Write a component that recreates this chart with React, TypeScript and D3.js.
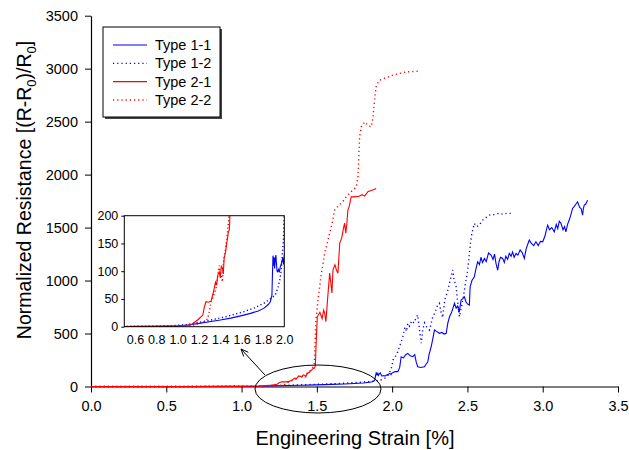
import React, { useEffect, useRef } from "react";
import * as d3 from "d3";

// [strain %, normalized resistance]
const type11 = [
  [0, 0], [0.2, 0], [0.4, 0.3], [0.6, 0.5], [0.8, 0.8], [1.0, 1.5], [1.1, 3], [1.2, 6], [1.313, 9.5],
  [1.4, 12], [1.498, 15.5], [1.6, 20], [1.683, 24], [1.75, 28], [1.807, 33], [1.85, 40], [1.869, 45],
  [1.878, 52], [1.884, 57], [1.889, 95], [1.894, 128], [1.9, 110], [1.905, 125], [1.909, 105],
  [1.915, 120], [1.921, 129], [1.927, 112], [1.932, 100], [1.937, 99], [1.945, 103], [1.953, 98],
  [1.961, 107], [1.97, 112], [1.977, 117], [1.985, 124], [1.993, 112], [2.0, 129], [2.02, 140],
  [2.038, 140], [2.05, 180], [2.06, 281], [2.075, 270], [2.09, 300], [2.104, 313], [2.12, 290],
  [2.137, 281], [2.15, 300], [2.16, 230], [2.17, 187], [2.19, 180], [2.215, 187], [2.225, 210],
  [2.237, 234], [2.245, 300], [2.259, 375], [2.27, 450], [2.281, 533], [2.295, 520], [2.314, 502],
  [2.33, 510], [2.345, 495], [2.359, 502], [2.37, 600], [2.381, 658], [2.395, 700], [2.414, 785],
  [2.425, 740], [2.435, 760], [2.445, 700], [2.458, 816], [2.47, 830], [2.48, 847], [2.49, 800],
  [2.5, 780], [2.513, 769], [2.518, 941], [2.53, 1000], [2.546, 1036], [2.555, 1100], [2.568, 1177],
  [2.58, 1150], [2.59, 1220], [2.6, 1170], [2.613, 1209], [2.625, 1180], [2.64, 1260], [2.657, 1240],
  [2.67, 1200], [2.68, 1250], [2.69, 1160], [2.701, 1099], [2.71, 1180], [2.72, 1220], [2.734, 1209],
  [2.745, 1170], [2.755, 1230], [2.767, 1200], [2.778, 1256], [2.79, 1230], [2.8, 1270], [2.81, 1220],
  [2.823, 1256], [2.835, 1240], [2.85, 1290], [2.865, 1260], [2.878, 1209], [2.89, 1300], [2.9, 1340],
  [2.911, 1382], [2.925, 1350], [2.94, 1330], [2.955, 1366], [2.97, 1330], [2.985, 1370], [3.0, 1366],
  [3.015, 1420], [3.025, 1480], [3.033, 1523], [3.045, 1480], [3.06, 1500], [3.077, 1460],
  [3.09, 1530], [3.1, 1490], [3.11, 1560], [3.121, 1540], [3.135, 1480], [3.145, 1510], [3.154, 1460],
  [3.165, 1530], [3.176, 1571], [3.187, 1620], [3.198, 1681], [3.21, 1700], [3.22, 1720],
  [3.232, 1743], [3.245, 1690], [3.255, 1680], [3.265, 1618], [3.27, 1680], [3.276, 1712],
  [3.285, 1720], [3.298, 1759],
];

const type12 = [
  [0, 0], [0.3, 0], [0.6, 0.5], [0.9, 1], [1.1, 4], [1.2, 8], [1.313, 12], [1.45, 18], [1.62, 27],
  [1.72, 34], [1.807, 42], [1.86, 49], [1.915, 57], [1.94, 70], [1.961, 87], [1.975, 110],
  [1.985, 140], [1.992, 158], [2.0, 200], [2.005, 250], [2.03, 300], [2.05, 380], [2.071, 470],
  [2.085, 560], [2.095, 520], [2.104, 596], [2.115, 570], [2.13, 620], [2.145, 600], [2.16, 650],
  [2.17, 675], [2.18, 550], [2.193, 408], [2.204, 540], [2.215, 600], [2.23, 560], [2.248, 533],
  [2.26, 600], [2.27, 658], [2.285, 700], [2.3, 760], [2.314, 785], [2.325, 700], [2.335, 650],
  [2.35, 820], [2.37, 910], [2.385, 1000], [2.395, 1060], [2.403, 1099], [2.41, 1020], [2.425, 941],
  [2.435, 800], [2.447, 658], [2.46, 750], [2.47, 820], [2.48, 910], [2.49, 1000], [2.502, 1099],
  [2.513, 1256], [2.52, 1350], [2.53, 1450], [2.546, 1540], [2.56, 1510], [2.58, 1523], [2.595, 1560],
  [2.613, 1587], [2.63, 1600], [2.646, 1618], [2.67, 1620], [2.69, 1630], [2.712, 1634], [2.74, 1625],
  [2.76, 1635], [2.79, 1634],
];

const type21 = [
  [0, 0], [0.2, 0], [0.4, 0.4], [0.6, 0.3], [0.8, 0.6], [0.9, 0.8], [1.0, 1.2], [1.035, 2],
  [1.08, 2.5], [1.127, 3.6], [1.16, 8], [1.19, 12.5], [1.215, 17], [1.236, 21], [1.25, 35],
  [1.266, 45], [1.29, 44], [1.313, 46], [1.33, 58], [1.343, 69], [1.355, 80], [1.365, 75],
  [1.375, 92], [1.39, 99], [1.4, 88], [1.41, 110], [1.42, 105], [1.428, 95], [1.436, 123],
  [1.45, 135], [1.46, 150], [1.467, 158], [1.475, 170], [1.485, 175], [1.49, 200], [1.495, 400],
  [1.503, 658], [1.52, 700], [1.535, 640], [1.545, 720], [1.552, 693], [1.56, 611], [1.57, 800],
  [1.585, 1070], [1.595, 950], [1.6, 882], [1.607, 1099], [1.62, 1150], [1.63, 1100], [1.64, 1070],
  [1.652, 1354], [1.665, 1400], [1.675, 1480], [1.684, 1542], [1.692, 1448], [1.7, 1550],
  [1.706, 1665], [1.715, 1700], [1.728, 1791], [1.75, 1790], [1.78, 1795], [1.8, 1810],
  [1.817, 1797], [1.83, 1820], [1.839, 1838], [1.86, 1850], [1.88, 1860], [1.894, 1870],
];

const type22 = [
  [0, 0], [0.3, 0], [0.6, 0.5], [0.9, 0.8], [1.1, 2], [1.15, 3], [1.22, 6.5], [1.26, 10],
  [1.282, 15], [1.3, 30], [1.313, 45], [1.335, 55], [1.36, 69], [1.375, 90], [1.39, 110],
  [1.405, 95], [1.42, 81], [1.428, 110], [1.436, 128], [1.45, 140], [1.467, 170], [1.482, 200],
  [1.487, 350], [1.492, 599], [1.5, 700], [1.507, 816], [1.515, 900], [1.53, 1070], [1.54, 1150],
  [1.552, 1259], [1.565, 1330], [1.585, 1448], [1.6, 1530], [1.618, 1665], [1.64, 1700],
  [1.662, 1731], [1.68, 1760], [1.695, 1791], [1.72, 1830], [1.745, 1860], [1.762, 1885],
  [1.773, 1979], [1.778, 2150], [1.784, 2357], [1.795, 2451], [1.805, 2470], [1.817, 2498],
  [1.83, 2480], [1.845, 2460], [1.861, 2451], [1.873, 2545], [1.883, 2700], [1.895, 2844],
  [1.917, 2892], [1.95, 2910], [1.98, 2925], [2.005, 2939], [2.05, 2955], [2.094, 2970],
  [2.13, 2972], [2.18, 2976],
];

const seriesNames = ["Type 1-1", "Type 1-2", "Type 2-1", "Type 2-2"];
const seriesData = [type11, type12, type21, type22];
const seriesColors = ["#0000ff", "#0000ff", "#ff0000", "#ff0000"];
const seriesDotted = [false, true, false, true];

const xTicks = [0, 0.5, 1.0, 1.5, 2.0, 2.5, 3.0, 3.5];
const yTicks = [0, 500, 1000, 1500, 2000, 2500, 3000, 3500];
const insetXTicks = [0.6, 0.8, 1.0, 1.2, 1.4, 1.6, 1.8, 2.0];
const insetYTicks = [0, 50, 100, 150, 200];

const FONT = "'Liberation Sans', Arial, sans-serif";
const DOTS = "1.2,3";

const App = () => {
  const ref = useRef(null);

  useEffect(() => {
    const svg = d3.select(ref.current);
    svg.selectAll("*").remove();

    const x = d3.scaleLinear().domain([0, 3.5]).range([91, 618]);
    const y = d3.scaleLinear().domain([0, 3500]).range([386.5, 15.7]);

    const root = svg.append("g").style("font-family", FONT);

    // main axes
    const xAxis = root
      .append("g")
      .attr("transform", `translate(0,${y(0)})`)
      .call(d3.axisBottom(x).tickValues(xTicks).tickFormat(d3.format(".1f")).tickSize(6).tickSizeOuter(0));
    const yAxis = root
      .append("g")
      .attr("transform", `translate(${x(0)},0)`)
      .call(d3.axisLeft(y).tickValues(yTicks).tickFormat(d3.format("d")).tickSize(6).tickSizeOuter(0));
    [xAxis, yAxis].forEach((a) => {
      a.selectAll("text").style("font-size", "14.5px").attr("fill", "#000").style("font-family", FONT);
      a.selectAll("line,path").attr("stroke", "#000");
      a.select(".domain").attr("stroke-width", 1.2);
    });
    xAxis.selectAll("text").attr("dy", "1.05em");
    yAxis.selectAll("text").attr("x", -13);

    const line = d3
      .line()
      .x((d) => x(d[0]))
      .y((d) => y(d[1]));

    seriesData.forEach((data, i) => {
      root
        .append("path")
        .datum(data)
        .attr("d", line)
        .attr("fill", "none")
        .attr("stroke", seriesColors[i])
        .attr("stroke-width", seriesDotted[i] ? 1.4 : 1.1)
        .attr("stroke-dasharray", seriesDotted[i] ? DOTS : null);
    });

    // axis titles
    root
      .append("text")
      .attr("x", 355)
      .attr("y", 445)
      .attr("text-anchor", "middle")
      .style("font-size", "20px")
      .text("Engineering Strain [%]");

    const yTitle = root
      .append("text")
      .attr("transform", "translate(31,190) rotate(-90)")
      .attr("text-anchor", "middle")
      .style("font-size", "19.5px");
    yTitle.append("tspan").text("Normalized Resistance [(R-R");
    yTitle.append("tspan").attr("dy", 5).style("font-size", "13px").text("0");
    yTitle.append("tspan").attr("dy", -5).text(")/R");
    yTitle.append("tspan").attr("dy", 5).style("font-size", "13px").text("0");
    yTitle.append("tspan").attr("dy", -5).text("]");

    // ellipse + arrow
    root
      .append("ellipse")
      .attr("cx", 318)
      .attr("cy", 389)
      .attr("rx", 63)
      .attr("ry", 24)
      .attr("fill", "none")
      .attr("stroke", "#000")
      .attr("stroke-width", 1);
    const ax0 = 265, ay0 = 375, ax1 = 241, ay1 = 349;
    root.append("line").attr("x1", ax0).attr("y1", ay0).attr("x2", ax1).attr("y2", ay1).attr("stroke", "#000");
    const ang = Math.atan2(ay0 - ay1, ax0 - ax1);
    [-0.4, 0.4].forEach((da) => {
      root
        .append("line")
        .attr("x1", ax1)
        .attr("y1", ay1)
        .attr("x2", ax1 + 8 * Math.cos(ang + da))
        .attr("y2", ay1 + 8 * Math.sin(ang + da))
        .attr("stroke", "#000");
    });

    // inset
    const ix = d3.scaleLinear().domain([0.5, 2.0]).range([124.3, 284.3]);
    const iy = d3.scaleLinear().domain([0, 200]).range([326.7, 215.7]);
    svg
      .append("clipPath")
      .attr("id", "insetClip")
      .append("rect")
      .attr("x", ix(0.5))
      .attr("y", iy(200))
      .attr("width", ix(2.0) - ix(0.5))
      .attr("height", iy(0) - iy(200));
    const inset = root.append("g");
    inset
      .append("rect")
      .attr("x", ix(0.5))
      .attr("y", iy(200))
      .attr("width", ix(2.0) - ix(0.5))
      .attr("height", iy(0) - iy(200))
      .attr("fill", "#fff");
    const iline = d3
      .line()
      .x((d) => ix(d[0]))
      .y((d) => iy(d[1]));
    const plotG = inset.append("g").attr("clip-path", "url(#insetClip)");
    seriesData.forEach((data, i) => {
      plotG
        .append("path")
        .datum(data.filter((d) => d[0] <= 2.05))
        .attr("d", iline)
        .attr("fill", "none")
        .attr("stroke", seriesColors[i])
        .attr("stroke-width", seriesDotted[i] ? 1.4 : 1.1)
        .attr("stroke-dasharray", seriesDotted[i] ? "1.2,2.5" : null);
    });
    inset
      .append("rect")
      .attr("x", ix(0.5))
      .attr("y", iy(200))
      .attr("width", ix(2.0) - ix(0.5))
      .attr("height", iy(0) - iy(200))
      .attr("fill", "none")
      .attr("stroke", "#000")
      .attr("stroke-width", 1);
    const ixAxis = inset
      .append("g")
      .attr("transform", `translate(0,${iy(0)})`)
      .call(d3.axisBottom(ix).tickValues(insetXTicks).tickFormat(d3.format(".1f")).tickSize(0).tickSizeOuter(0));
    const iyAxis = inset
      .append("g")
      .attr("transform", `translate(${ix(0.5)},0)`)
      .call(d3.axisLeft(iy).tickValues(insetYTicks).tickSize(3).tickSizeOuter(0));
    [ixAxis, iyAxis].forEach((a) => {
      a.select(".domain").remove();
      a.selectAll("line").attr("stroke", "#000");
      a.selectAll("text").style("font-size", "12.5px").attr("fill", "#000").style("font-family", FONT);
    });
    ixAxis.selectAll("text").attr("y", 8);
    iyAxis.selectAll("text").attr("x", -6);

    // legend
    const lg = root.append("g");
    lg.append("rect").attr("x", 105).attr("y", 29).attr("width", 117).attr("height", 90).attr("fill", "#444");
    lg.append("rect")
      .attr("x", 103)
      .attr("y", 27)
      .attr("width", 117)
      .attr("height", 90)
      .attr("fill", "#fff")
      .attr("stroke", "#000")
      .attr("stroke-width", 1);
    const ly = d3.scalePoint().domain(seriesNames).range([45, 100]);
    seriesNames.forEach((name, i) => {
      lg.append("line")
        .attr("x1", 113)
        .attr("x2", 147)
        .attr("y1", ly(name))
        .attr("y2", ly(name))
        .attr("stroke", seriesColors[i])
        .attr("stroke-width", seriesDotted[i] ? 1.4 : 1.1)
        .attr("stroke-dasharray", seriesDotted[i] ? DOTS : null);
      lg.append("text")
        .attr("x", 155)
        .attr("y", ly(name))
        .attr("dy", "0.35em")
        .style("font-size", "14.5px")
        .text(name);
    });
  }, []);

  return <svg ref={ref} width={629} height={450} style={{ position: "absolute", left: 0, top: 0 }}></svg>;
};

export default App;
